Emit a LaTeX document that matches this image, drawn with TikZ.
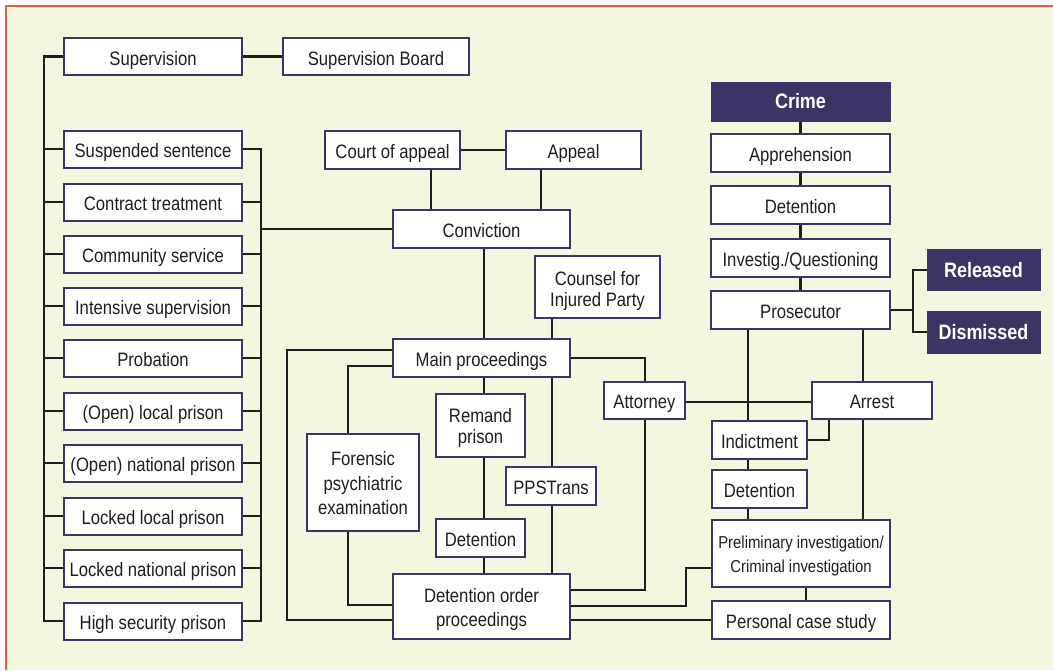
\documentclass[tikz,border=0pt]{standalone}
\usepackage{fontspec}
\setmainfont{Liberation Sans}[FakeStretch=0.86]
\definecolor{cream}{HTML}{F5F6E0}
\definecolor{frameor}{HTML}{E2643D}
\definecolor{navy}{HTML}{3B3566}
\definecolor{linec}{HTML}{1E1E1E}
\definecolor{txt}{HTML}{1F1D1E}
\newcommand\tx[2][4.2]{\raisebox{-#1pt}[\height][\depth]{\begin{tabular}{@{}c@{}}#2\end{tabular}}}
\begin{document}
\begin{tikzpicture}[x=1pt,y=-1pt,
  box/.style={draw=navy, line width=2pt, fill=white, inner sep=0pt, text=txt,
    font=\fontsize{19.4}{23}\selectfont},
  darkbox/.style={fill=navy, draw=navy, line width=1pt, inner sep=0pt, text=white,
    font=\fontsize{20.9}{23}\bfseries},
  conn/.style={draw=linec, line width=2.1pt}
]
\useasboundingbox (0,0) rectangle (1053,670);
\fill[cream] (6,6) rectangle (1053,670);
\draw[frameor, line width=2pt] (6,670) -- (6,6) -- (1053,6);

% column/row helper coordinates
\coordinate (cBL) at (44,0);
\coordinate (cBR) at (261,0);
\coordinate (cA) at (431,0);
\coordinate (cB) at (541,0);
\coordinate (cC) at (484,0);
\coordinate (cD) at (552,0);
\coordinate (cE) at (348,0);
\coordinate (cF) at (287,0);
\coordinate (cG) at (645,0);
\coordinate (cH) at (686,0);
\coordinate (cI) at (748,0);
\coordinate (cJ) at (863,0);
\coordinate (cK) at (829,0);
\coordinate (cL) at (806,0);
\coordinate (cM) at (913,0);
\coordinate (r350) at (0,350);
\coordinate (r366) at (0,366);
\coordinate (r590) at (0,590);
\coordinate (r605) at (0,605);
\coordinate (r606) at (0,606);
\coordinate (r620) at (0,620);
\coordinate (r568) at (0,568);
\coordinate (r402) at (0,402);

% left column
\node[box, minimum width=178, minimum height=37] (sup) at (153,56.5) {\tx{Supervision}};
\node[box, minimum width=186, minimum height=37] (supb) at (376,56.5) {\tx{Supervision Board}};
\node[box, minimum width=178, minimum height=37] (ss) at (153,149) {\tx{Suspended sentence}};
\node[box, minimum width=178, minimum height=37] (ct) at (153,202) {\tx{Contract treatment}};
\node[box, minimum width=178, minimum height=37] (cs) at (153,254) {\tx{Community service}};
\node[box, minimum width=178, minimum height=37] (is) at (153,306) {\tx{Intensive supervision}};
\node[box, minimum width=178, minimum height=37] (prob) at (153,358) {\tx{Probation}};
\node[box, minimum width=178, minimum height=37] (olp) at (153,411) {\tx{(Open) local prison}};
\node[box, minimum width=178, minimum height=37] (onp) at (153,463) {\tx{(Open) national prison}};
\node[box, minimum width=178, minimum height=37] (llp) at (153,516) {\tx{Locked local prison}};
\node[box, minimum width=178, minimum height=37] (lnp) at (153,568) {\tx{Locked national prison}};
\node[box, minimum width=178, minimum height=37] (hsp) at (153,621) {\tx{High security prison}};

% middle
\node[box, minimum width=135, minimum height=38] (coa) at (392.5,150) {\tx{Court of appeal}};
\node[box, minimum width=135, minimum height=38] (appeal) at (573.5,150) {\tx{Appeal}};
\node[box, minimum width=177, minimum height=38] (conv) at (481.5,229) {\tx{Conviction}};
\node[box, minimum width=125, minimum height=62, font=\fontsize{19.4}{21}\selectfont] (counsel) at (597.5,287) {\tx[5]{Counsel for\\Injured Party}};
\node[box, minimum width=177, minimum height=38] (main) at (481.5,358) {\tx{Main proceedings}};
\node[box, minimum width=89, minimum height=63, font=\fontsize{19.4}{20.5}\selectfont] (remand) at (480.5,425.5) {\tx[3.5]{Remand\\prison}};
\node[box, minimum width=112, minimum height=97, font=\fontsize{19.4}{24.5}\selectfont] (forensic) at (363,482.5) {\tx[3]{Forensic\\psychiatric\\examination}};
\node[box, minimum width=90, minimum height=38] (ppst) at (551,486) {\tx{PPSTrans}};
\node[box, minimum width=89, minimum height=38] (det2) at (480.5,538) {\tx{Detention}};
\node[box, minimum width=177, minimum height=65, font=\fontsize{19.4}{24}\selectfont] (dop) at (481.5,606.5) {\tx[2.7]{Detention order\\proceedings}};
\node[box, minimum width=81, minimum height=37] (attorney) at (644.5,400) {\tx{Attorney}};

% right
\node[darkbox, minimum width=179, minimum height=39] (crime) at (800.5,101.5) {Crime};
\node[box, minimum width=179, minimum height=38] (appr) at (800.5,153) {\tx{Apprehension}};
\node[box, minimum width=179, minimum height=38] (det1) at (800.5,205) {\tx{Detention}};
\node[box, minimum width=179, minimum height=38] (invest) at (800.5,258) {\tx{Investig./Questioning}};
\node[box, minimum width=179, minimum height=38] (pros) at (800.5,310) {\tx{Prosecutor}};
\node[darkbox, minimum width=113, minimum height=41] (released) at (983.5,270) {Released};
\node[darkbox, minimum width=113, minimum height=42] (dismissed) at (983.5,332) {Dismissed};
\node[box, minimum width=120, minimum height=37] (arrest) at (872,400) {\tx{Arrest}};
\node[box, minimum width=95, minimum height=38] (indict) at (759.5,440) {\tx{Indictment}};
\node[box, minimum width=95, minimum height=38] (det3) at (759.5,489) {\tx{Detention}};
\node[box, minimum width=178, minimum height=67, font=\fontsize{17.3}{24}\selectfont] (prelim) at (801,553.5) {\tx[2.5]{Preliminary investigation/\\Criminal investigation}};
\node[box, minimum width=178, minimum height=38] (pcs) at (801,620) {\tx{Personal case study}};

% connectors: left buses
\draw[conn] (sup.east) -- (supb.west);
\draw[conn] (sup.west) -- (cBL |- sup.west) -- (cBL |- hsp.west) -- (hsp.west);
\foreach \n in {ss,ct,cs,is,prob,olp,onp,llp,lnp} {
  \draw[conn] (\n.west) -- (cBL |- \n.west);
}
\draw[conn] (ss.east) -- (cBR |- ss.east) -- (cBR |- hsp.east) -- (hsp.east);
\foreach \n in {ct,cs,is,prob,olp,onp,llp,lnp} {
  \draw[conn] (\n.east) -- (cBR |- \n.east);
}
\draw[conn] (cBR |- conv.west) -- (conv.west);

% middle connectors
\draw[conn] (coa.east) -- (appeal.west);
\draw[conn] (coa.south -| cA) -- (conv.north -| cA);
\draw[conn] (appeal.south -| cB) -- (conv.north -| cB);
\draw[conn] (conv.south -| cC) -- (main.north -| cC);
\draw[conn] (main.south -| cC) -- (remand.north -| cC);
\draw[conn] (remand.south -| cC) -- (det2.north -| cC);
\draw[conn] (det2.south -| cC) -- (dop.north -| cC);
\draw[conn] (counsel.south -| cD) -- (main.north -| cD);
\draw[conn] (main.south -| cD) -- (ppst.north -| cD);
\draw[conn] (ppst.south -| cD) -- (dop.north -| cD);
\draw[conn] (main.west |- r350) -- (cF |- r350) -- (cF |- r620) -- (dop.west |- r620);
\draw[conn] (main.west |- r366) -- (cE |- r366) -- (forensic.north -| cE);
\draw[conn] (forensic.south -| cE) -- (cE |- r605) -- (dop.west |- r605);
\draw[conn] (main.east) -| (attorney.north -| cG);
\draw[conn] (attorney.south -| cG) -- (cG |- r590) -- (dop.east |- r590);
\draw[conn] (dop.east |- r606) -- (cH |- r606) -- (cH |- r568) -- (prelim.west |- r568);
\draw[conn] (dop.east |- r620) -- (pcs.west |- r620);
\draw[conn] (attorney.east |- r402) -- (arrest.west |- r402);

% right connectors
\draw[conn] (crime.south) -- (appr.north);
\draw[conn] (appr.south) -- (det1.north);
\draw[conn] (det1.south) -- (invest.north);
\draw[conn] (invest.south) -- (pros.north);
\draw[conn] (pros.east) -- (cM |- pros.east);
\draw[conn] (released.west) -- (cM |- released.west) -- (cM |- dismissed.west) -- (dismissed.west);
\draw[conn] (pros.south -| cI) -- (indict.north -| cI);
\draw[conn] (indict.south -| cI) -- (det3.north -| cI);
\draw[conn] (det3.south -| cI) -- (prelim.north -| cI);
\draw[conn] (pros.south -| cJ) -- (arrest.north -| cJ);
\draw[conn] (arrest.south -| cJ) -- (prelim.north -| cJ);
\draw[conn] (arrest.south -| cK) -- (cK |- indict.east) -- (indict.east);
\draw[conn] (prelim.south -| cL) -- (pcs.north -| cL);
\end{tikzpicture}
\end{document}
